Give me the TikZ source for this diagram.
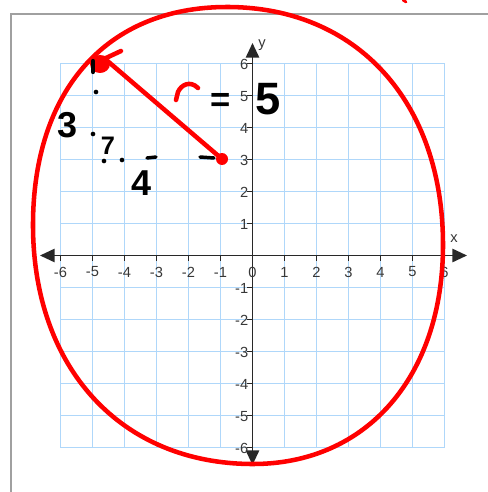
\documentclass[tikz,border=0pt]{standalone}
\usepackage{fontspec}
\setmainfont{Liberation Sans}
\usetikzlibrary{arrows.meta}
\definecolor{gridblue}{RGB}{175,215,250}
\definecolor{axisgray}{RGB}{40,40,40}
\definecolor{labelgray}{RGB}{55,55,55}
\definecolor{framegray}{RGB}{160,160,160}
\definecolor{penred}{RGB}{255,0,0}
\tikzset{
  gridline/.style={draw=gridblue, line width=0.9pt},
  axisline/.style={draw=axisgray, line width=1.3pt, {Triangle[length=11pt,width=10pt]}-{Triangle[length=11pt,width=10pt]}},
  ticklabel/.style={text=labelgray, font=\fontsize{11}{13}\selectfont, inner sep=0pt},
  redpen/.style={draw=penred, line width=3.4pt, line cap=round, line join=round},
  blackpen/.style={draw=black, line width=2.6pt, line cap=round},
  hand/.style={inner sep=0pt, font=\bfseries},
  dotmark/.style={fill=black, circle, inner sep=0pt, minimum size=3.5pt}
}
\begin{document}
\begin{tikzpicture}[x=0.75pt,y=-0.75pt]
\useasboundingbox (0,0) rectangle (488,492);
\fill[white] (0,0) rectangle (488,492);
% frame
\draw[draw=framegray, line width=1.3pt] (11,492) -- (11,14) -- (488,14);
% grid
\foreach \i in {0,...,12} {
  \draw[gridline] (60.5+32*\i,63.5) -- (60.5+32*\i,447.5);
  \draw[gridline] (60.5,63.5+32*\i) -- (444.5,63.5+32*\i);
}
% axes
\coordinate (xl) at (40,255.5);
\coordinate (xr) at (467,255.5);
\coordinate (yt) at (252.5,43);
\coordinate (yb) at (252.5,465);
\draw[axisline] (xl) -- (xr);
\draw[axisline] (yb) -- (yt);
\node[ticklabel, anchor=south west] (xlab) at (450,243) {x};
\node[ticklabel, anchor=south west] (ylab) at (258,51) {y};
% ticks and labels
\foreach \v in {-6,...,6} {
  \draw[draw=axisgray, line width=1pt] (252.5+32*\v,255.5) -- (252.5+32*\v,261);
  \node[ticklabel] (xt\v) at (252.5+32*\v,272) {\v};
}
\foreach \v in {-6,...,-1,1,2,3,4,5,6} {
  \draw[draw=axisgray, line width=1pt] (252.5,255.5-32*\v) -- (247,255.5-32*\v);
  \node[ticklabel, anchor=east] (yt\v) at (248.5,255.5-32*\v+1) {\v};
}
% hand-drawn circle
\draw[redpen] (227,7) .. controls (357,7) and (443,102) .. (443,245)
  .. controls (443,376) and (367,464) .. (253,464)
  .. controls (121,464) and (33,368) .. (33,225)
  .. controls (33,90) and (107,7) .. (227,7) -- cycle;
% radius
\coordinate (center) at (222,159);
\coordinate (rim) at (104,58);
\draw[redpen] (rim) -- (center);
\fill[penred] (center) circle (6);
\fill[penred] (100,64) ellipse (10 and 9);
\draw[redpen] (106,58) -- (121,51);
\draw[blackpen, line width=3.2pt] (93,61) -- (93,72);
% tiny red mark at top
\draw[redpen, line width=2pt] (403,0) -- (406,2);
% r = 5
\draw[redpen] (176,100) -- (178,92) .. controls (181,85) and (190,80) .. (198,88);
\node[hand] (eq) at (221,102) {\fontsize{26}{28}\selectfont =};
\node[hand] (five) at (268,99) {\fontsize{34}{36}\selectfont 5};
% side notes
\node[hand] (three) at (68,125) {\fontsize{27}{29}\selectfont 3};
\node[hand] (seven) at (108,146) {\fontsize{19}{21}\selectfont 7};
\node[hand] (four) at (142,183) {\fontsize{27}{29}\selectfont 4};
\node[dotmark] (d1) at (96,92) {};
\node[dotmark] (d2) at (93,134) {};
\node[dotmark] (d3) at (104,161) {};
\node[dotmark] (d4) at (122,160) {};
\draw[blackpen] (147,158) -- (156,157);
\draw[blackpen] (200,157) -- (214,158);
\end{tikzpicture}
\end{document}
